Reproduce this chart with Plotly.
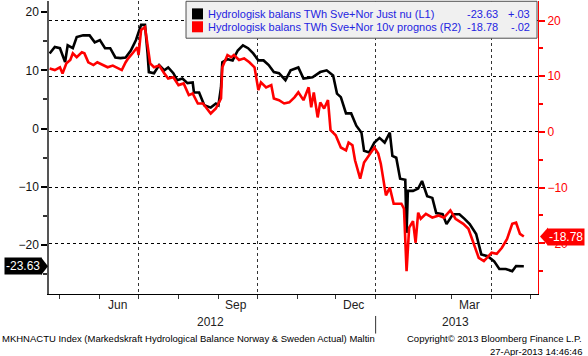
import plotly.graph_objects as go

# ---------------- data ----------------
l1_name = "Hydrologisk balans TWh Sve+Nor Just nu (L1)"
l1_dates = [
    "2012-04-23", "2012-04-27", "2012-05-01", "2012-05-05", "2012-05-07", "2012-05-11",
    "2012-05-14", "2012-05-19", "2012-05-24", "2012-05-28", "2012-06-01", "2012-06-05",
    "2012-06-09", "2012-06-13", "2012-06-17", "2012-06-21", "2012-06-25", "2012-06-29",
    "2012-07-03", "2012-07-06", "2012-07-08", "2012-07-09", "2012-07-13", "2012-07-17",
    "2012-07-21", "2012-07-24", "2012-07-28", "2012-07-31", "2012-08-04", "2012-08-08",
    "2012-08-12", "2012-08-13", "2012-08-17", "2012-08-21", "2012-08-26", "2012-08-30",
    "2012-09-01", "2012-09-03", "2012-09-04", "2012-09-08", "2012-09-12", "2012-09-16",
    "2012-09-20", "2012-09-24", "2012-09-28", "2012-10-02", "2012-10-06", "2012-10-10",
    "2012-10-14", "2012-10-18", "2012-10-23", "2012-10-27", "2012-11-02", "2012-11-06",
    "2012-11-13", "2012-11-19", "2012-11-24", "2012-11-29", "2012-12-02", "2012-12-05",
    "2012-12-09", "2012-12-13", "2012-12-17", "2012-12-21", "2012-12-23", "2012-12-27",
    "2012-12-31", "2013-01-04", "2013-01-08", "2013-01-12", "2013-01-14", "2013-01-17",
    "2013-01-20", "2013-01-24", "2013-01-25", "2013-01-26", "2013-01-30", "2013-02-03",
    "2013-02-06", "2013-02-10", "2013-02-14", "2013-02-17", "2013-02-22", "2013-02-25",
    "2013-03-02", "2013-03-07", "2013-03-11", "2013-03-15", "2013-03-20", "2013-03-24",
    "2013-03-29", "2013-04-03", "2013-04-07", "2013-04-12", "2013-04-17", "2013-04-20",
    "2013-04-26",
]
l1_values = [
    12.9, 14.0, 13.8, 11.4, 14.3, 13.8,
    15.7, 16.0, 16.0, 14.8, 15.2, 13.8,
    13.8, 12.2, 12.1, 12.2, 13.4, 15.2,
    17.8, 17.8, 12.9, 9.7, 9.5, 10.9,
    10.0, 10.5, 9.5, 8.3, 8.6, 7.8,
    7.9, 6.2, 6.2, 4.0, 3.6, 4.3,
    4.0, 7.1, 11.4, 11.9, 11.7, 13.4,
    14.3, 13.8, 12.9, 11.7, 11.7, 10.9,
    9.7, 9.5, 8.3, 10.0, 10.5, 8.6,
    8.8, 9.7, 10.0, 9.1, 6.0, 5.4,
    2.6, 2.6, 0.5, -0.7, -3.8, -4.1,
    -2.4, -1.6, -2.4, -0.7, -4.7, -5.0,
    -8.6, -8.8, -17.9, -10.7, -10.7, -10.3,
    -9.0, -11.6, -11.9, -14.5, -14.7, -16.4,
    -14.7, -14.7, -15.5, -16.4, -18.1, -21.6,
    -21.9, -22.8, -24.1, -24.1, -24.5, -23.6,
    -23.63,
]

r2_name = "Hydrologisk balans TWh Sve+Nor 10v prognos (R2)"
r2_dates = [
    "2012-04-23", "2012-04-27", "2012-05-01", "2012-05-03", "2012-05-06", "2012-05-09",
    "2012-05-11", "2012-05-14", "2012-05-18", "2012-05-20", "2012-05-23", "2012-05-27",
    "2012-05-30", "2012-06-03", "2012-06-07", "2012-06-11", "2012-06-15", "2012-06-18",
    "2012-06-21", "2012-06-23", "2012-06-27", "2012-06-30", "2012-07-01", "2012-07-03",
    "2012-07-06", "2012-07-08", "2012-07-10", "2012-07-13", "2012-07-17", "2012-07-21",
    "2012-07-24", "2012-07-28", "2012-08-01", "2012-08-05", "2012-08-09", "2012-08-12",
    "2012-08-16", "2012-08-20", "2012-08-24", "2012-08-26", "2012-08-30", "2012-09-03",
    "2012-09-04", "2012-09-08", "2012-09-11", "2012-09-13", "2012-09-17", "2012-09-21",
    "2012-09-25", "2012-09-29", "2012-10-02", "2012-10-04", "2012-10-08", "2012-10-12",
    "2012-10-14", "2012-10-18", "2012-10-22", "2012-10-26", "2012-10-30", "2012-11-02",
    "2012-11-06", "2012-11-10", "2012-11-12", "2012-11-14", "2012-11-17", "2012-11-19",
    "2012-11-22", "2012-11-25", "2012-11-27", "2012-12-01", "2012-12-05", "2012-12-09",
    "2012-12-11", "2012-12-14", "2012-12-16", "2012-12-20", "2012-12-23", "2012-12-27",
    "2012-12-31", "2013-01-03", "2013-01-05", "2013-01-09", "2013-01-12", "2013-01-15",
    "2013-01-21", "2013-01-23", "2013-01-25", "2013-01-27", "2013-01-30", "2013-02-01",
    "2013-02-03", "2013-02-05", "2013-02-09", "2013-02-14", "2013-02-19", "2013-02-23",
    "2013-02-28", "2013-03-04", "2013-03-10", "2013-03-14", "2013-03-18", "2013-03-22",
    "2013-03-26", "2013-04-01", "2013-04-05", "2013-04-09", "2013-04-13", "2013-04-17",
    "2013-04-20", "2013-04-23", "2013-04-26",
]
r2_values = [
    11.4, 11.1, 11.6, 10.5, 12.3, 12.9,
    14.1, 13.4, 14.3, 14.1, 12.5, 12.0,
    12.5, 12.0, 11.6, 11.9, 11.4, 11.1,
    12.5, 13.2, 14.3, 15.2, 13.8, 18.3,
    18.8, 15.2, 12.3, 11.6, 11.9, 10.5,
    9.6, 9.8, 8.4, 8.7, 6.6, 6.9,
    5.1, 5.1, 3.9, 3.3, 4.2, 6.0,
    11.6, 13.8, 13.4, 13.8, 12.9, 13.2,
    12.5, 11.6, 7.5, 8.9, 8.0, 8.4,
    6.0, 5.7, 5.1, 5.3, 6.2, 7.1,
    5.7, 8.0, 4.4, 7.1, 2.6, 5.3,
    4.2, 5.7, 0.3, -0.6, -2.8, -3.3,
    -1.9, -2.4, -5.1, -8.4, -5.5, -4.2,
    -2.8, -3.9, -5.7, -11.4, -10.0, -12.9,
    -12.9, -13.8, -25.0, -17.2, -16.0, -19.9,
    -14.5, -15.6, -14.7, -15.4, -15.0, -15.4,
    -14.1, -15.6, -16.5, -17.4, -19.9, -22.6,
    -23.2, -21.7, -21.9, -20.8, -19.2, -16.5,
    -16.3, -18.3, -18.78,
]

series_names = [l1_name, r2_name]
series_colors = ["black", "#ff0000"]
legend_last = ["-23.63", "-18.78"]
legend_change = ["+.03", "-.02"]

month_labels = ["Jun", "Sep", "Dec", "Mar"]
month_label_dates = ["2012-06-15", "2012-09-15", "2012-12-15", "2013-03-15"]
year_labels = ["2012", "2013"]
year_label_dates = ["2012-08-26", "2013-03-04"]
year_break = "2013-01-01"
x_range = ["2012-04-22 12:00", "2013-05-07"]
y1_range = [-28.4, 21.9]
y2_range = [-29.1, 23.5]

footer_left = "MKHNACTU Index (Markedskraft Hydrological Balance Norway &amp; Sweden Actual) Maltin"
footer_right = "Copyright© 2013 Bloomberg Finance L.P."
footer_time = "27-Apr-2013 14:46:46"

FONT = "Liberation Sans, Arial, sans-serif"
BLUE = "#2424e0"

W, H = 588, 356
ML, MR, MT, MB = 49, 50, 1, 62
PW, PH = W - ML - MR, H - MT - MB

fig = go.Figure()

fig.add_trace(go.Scatter(x=l1_dates, y=l1_values, mode="lines", name=l1_name,
                         line=dict(color=series_colors[0], width=2.6), yaxis="y",
                         showlegend=False))
fig.add_trace(go.Scatter(x=r2_dates, y=r2_values, mode="lines", name=r2_name,
                         line=dict(color=series_colors[1], width=2.6), yaxis="y2",
                         showlegend=False))

annotations = []
shapes = []

for lab, d in zip(month_labels, month_label_dates):
    annotations.append(dict(x=d, xref="x", y=-0.038, yref="paper", text=lab,
                            showarrow=False, font=dict(family=FONT, size=12, color="#222"),
                            xanchor="center", yanchor="middle"))
for lab, d in zip(year_labels, year_label_dates):
    annotations.append(dict(x=d, xref="x", y=-0.096, yref="paper", text=lab,
                            showarrow=False, font=dict(family=FONT, size=12, color="#222"),
                            xanchor="center", yanchor="middle"))
shapes.append(dict(type="line", xref="x", yref="paper", x0=year_break, x1=year_break,
                   y0=-0.075, y1=-0.135, line=dict(color="#333", width=1)))

# last-value tags (box + pointer)
annotations.append(dict(x=0, xref="paper", y=l1_values[-1], yref="y", text=legend_last[0],
                        showarrow=False, xanchor="right", yanchor="middle", xshift=-7,
                        bgcolor="black", font=dict(family=FONT, size=12, color="white"),
                        borderpad=1))
annotations.append(dict(x=1, xref="paper", y=r2_values[-1], yref="y2", text=legend_last[1],
                        showarrow=False, xanchor="left", yanchor="middle", xshift=9,
                        bgcolor="#ff0000", font=dict(family=FONT, size=12, color="white"),
                        borderpad=1))
u1 = (y1_range[1] - y1_range[0]) / PH   # data units per pixel, left axis
u2 = (y2_range[1] - y2_range[0]) / PH   # right axis
v1, v2 = l1_values[-1], r2_values[-1]
shapes.append(dict(type="path", xref="paper", yref="y",
                   path=f"M {-8/PW},{v1 + 9*u1} L {-1/PW},{v1} L {-8/PW},{v1 - 9*u1} Z",
                   fillcolor="black", line=dict(width=0)))
shapes.append(dict(type="path", xref="paper", yref="y2",
                   path=f"M {1 + 10/PW},{v2 + 9*u2} L {1 + 2/PW},{v2} L {1 + 10/PW},{v2 - 9*u2} Z",
                   fillcolor="#ff0000", line=dict(width=0)))

# legend box (drawn manually to match the compact Bloomberg legend)
shapes.append(dict(type="rect", xref="paper", yref="paper", x0=0.2802, x1=0.998,
                   y0=0.873, y1=0.999, fillcolor="#f0f0f0",
                   line=dict(color="#505050", width=1), layer="above"))
row_y = [0.956, 0.912]
for i in range(2):
    yy = row_y[i]
    shapes.append(dict(type="rect", xref="paper", yref="paper", x0=0.2924, x1=0.3149,
                       y0=yy - 0.0188, y1=yy + 0.0188, fillcolor=series_colors[i],
                       line=dict(width=0), layer="above"))
    annotations.append(dict(x=0.321, xref="paper", y=yy, yref="paper", text=series_names[i],
                            showarrow=False, xanchor="left", yanchor="middle",
                            font=dict(family=FONT, size=11, color=BLUE)))
    annotations.append(dict(x=0.9223, xref="paper", y=yy, yref="paper", text=legend_last[i],
                            showarrow=False, xanchor="right", yanchor="middle",
                            font=dict(family=FONT, size=11, color=BLUE)))
    annotations.append(dict(x=0.9877, xref="paper", y=yy, yref="paper", text=legend_change[i],
                            showarrow=False, xanchor="right", yanchor="middle",
                            font=dict(family=FONT, size=11, color=BLUE)))

# footer
annotations.append(dict(x=0, xref="paper", xshift=-49, y=-0.153, yref="paper", text=footer_left,
                        showarrow=False, xanchor="left", yanchor="middle",
                        font=dict(family=FONT, size=9.5, color="black")))
annotations.append(dict(x=1, xref="paper", xshift=46, y=-0.153, yref="paper", text=footer_right,
                        showarrow=False, xanchor="right", yanchor="middle",
                        font=dict(family=FONT, size=9.5, color="black")))
annotations.append(dict(x=1, xref="paper", xshift=46, y=-0.195, yref="paper", text=footer_time,
                        showarrow=False, xanchor="right", yanchor="middle",
                        font=dict(family=FONT, size=9.5, color="black")))

fig.update_layout(
    width=W, height=H,
    margin=dict(l=ML, r=MR, t=MT, b=MB, pad=0),
    paper_bgcolor="white", plot_bgcolor="white",
    font=dict(family=FONT, size=12, color="black"),
    showlegend=False,
    xaxis=dict(type="date", range=x_range, showline=True, linecolor="black", linewidth=1,
               ticks="outside", ticklen=4, tickcolor="#333", dtick="M3", tick0="2012-01-01",
               showticklabels=False, showgrid=True, gridcolor="#333", griddash="dot",
               gridwidth=1, zeroline=False,
               minor=dict(dtick="M1", tick0="2012-01-01", ticks="outside", ticklen=4,
                          tickcolor="#333", showgrid=False)),
    yaxis=dict(range=y1_range, showline=True, linecolor="#555", linewidth=1.5,
               ticks="outside", ticklen=6, tickwidth=2, tickcolor="black", dtick=10, tick0=0,
               showgrid=False, zeroline=False, tickfont=dict(family=FONT, size=12, color="#111"),
               minor=dict(dtick=5, tick0=0, ticks="outside", ticklen=4, tickcolor="#333")),
    yaxis2=dict(range=y2_range, overlaying="y", side="right", showline=True,
                linecolor="#ff0000", linewidth=1, ticks="outside", ticklen=6, tickwidth=2,
                tickcolor="#ff0000", dtick=10, tick0=0, showgrid=True, gridcolor="black",
                griddash="dot", gridwidth=1, zeroline=False,
                tickfont=dict(family=FONT, size=12, color="#ff0000"),
                minor=dict(dtick=5, tick0=0, ticks="outside", ticklen=4, tickcolor="#ff0000")),
    annotations=annotations,
    shapes=shapes,
)

fig.write_html("out.html", config={"displayModeBar": False},
               post_script="document.body.style.margin='0';document.body.style.padding='0';")
